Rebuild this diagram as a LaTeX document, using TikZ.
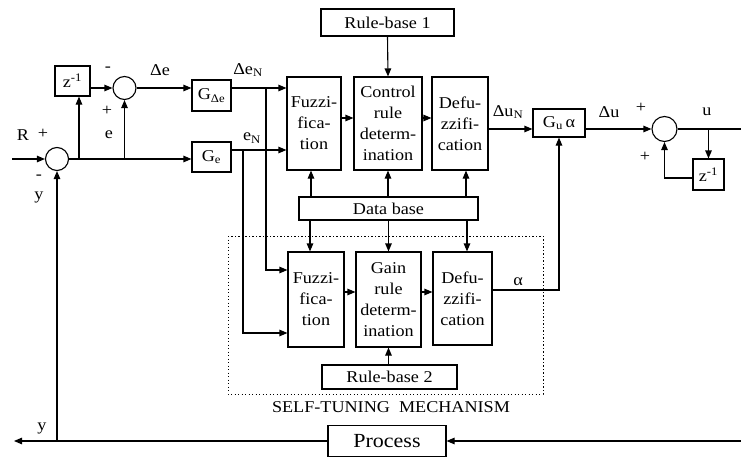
\documentclass[tikz,border=0pt]{standalone}
\usepackage{fontspec}
\setmainfont{Liberation Serif}[FakeStretch=1.1]
\usetikzlibrary{arrows.meta}
\begin{document}
\begin{tikzpicture}[x=1pt,y=-1pt,
  line width=1.1pt,
  >={Triangle[length=8pt,width=6.5pt]},
  every node/.style={font=\fontsize{16.5}{21}\selectfont},
  blk/.style={draw, inner sep=0pt, align=center},
  sumj/.style={draw, circle, inner sep=0pt, minimum size=23pt},
  lbl/.style={inner sep=0pt}]
\path[use as bounding box] (0,0) rectangle (741,460);

% summing junctions
\node[sumj] (s1) at (57,159) {};
\node[sumj] (s2) at (124.5,88) {};
\node[sumj, minimum size=25pt] (s3) at (664.5,129) {};

% blocks
\node[blk, minimum width=35pt, minimum height=30pt] (z1) at (72.5,81) {z\textsuperscript{-1}};
\node[blk, minimum width=39pt, minimum height=31pt] (gde) at (211.5,95.5) {G\textsubscript{Δe}};
\node[blk, minimum width=39pt, minimum height=30pt] (ge) at (211.5,157) {G\textsubscript{e}};
\node[blk, minimum width=54pt, minimum height=93pt] (f1) at (314,123.5) {Fuzzi-\\fica-\\tion};
\node[blk, minimum width=68pt, minimum height=93pt] (c1) at (388,123.5) {Control\\rule\\determ-\\ination};
\node[blk, minimum width=56pt, minimum height=93pt] (d1) at (460,123.5) {Defu-\\zzifi-\\cation};
\node[blk, minimum width=133pt, minimum height=27pt] (rb1) at (387.5,22.5) {Rule-base 1};
\node[blk, minimum width=179pt, minimum height=23pt] (db) at (388.5,208.5) {Data base};
\node[blk, minimum width=56pt, minimum height=95pt] (f2) at (316,299.5) {Fuzzi-\\fica-\\tion};
\node[blk, minimum width=65pt, minimum height=95pt] (g2) at (388.5,299.5) {Gain\\rule\\determ-\\ination};
\node[blk, minimum width=59pt, minimum height=93pt] (d2) at (462.5,298.5) {Defu-\\zzifi-\\cation};
\node[blk, minimum width=135pt, minimum height=24pt] (rb2) at (389.5,377) {Rule-base 2};
\node[blk, minimum width=52pt, minimum height=28pt] (gu) at (559,123) {G\textsubscript{u}\,α};
\node[blk, minimum width=31pt, minimum height=31pt] (z2) at (708.5,174.5) {z\textsuperscript{-1}};
\node[blk, minimum width=118pt, minimum height=31pt, font=\fontsize{20}{22}\selectfont] (proc) at (387,441) {Process};

% self-tuning mechanism frame
\draw[line width=1pt, dash pattern=on 1.1pt off 2.4pt] (228,236) rectangle (543,394);
\node (stm) at (391,407) {SELF-TUNING\ \ MECHANISM};

% junction and terminal points
\coordinate (rin) at (12,159);
\coordinate (b1) at (79,159);
\coordinate (b2) at (124.5,159);
\coordinate (den) at (266,88);
\coordinate (en) at (243,150);
\coordinate (uout) at (741,129);
\coordinate (ub) at (708.5,129);
\coordinate (pin) at (741,441);
\coordinate (yout) at (14,441);
\coordinate (yb) at (57,441);

% error path
\draw[->] (rin) -- (s1.west);
\draw (s1.east) -- (b1) -- (b2);
\draw[->] (b2) -- (ge.west |- b2);
\draw[->] (b1) -- (b1 |- z1.south);
\draw[->] (b2) -- (s2.south);
\draw[->] (z1.east |- s2) -- (s2.west);
\draw[->] (s2.east) -- (gde.west |- s2);

% normalised inputs
\draw[->] (gde.east |- s2) -- (f1.west |- s2);
\draw[->] (ge.east |- en) -- (f1.west |- en);
\draw[->] (den) |- ([yshift=29.5pt]f2.west);
\draw[->] (en) |- ([yshift=-33.5pt]f2.west);

% fuzzy controller
\draw[->] ([yshift=5.5pt]f1.east) -- ([yshift=5.5pt]c1.west);
\draw[->] ([yshift=5.5pt]c1.east) -- ([yshift=5.5pt]d1.west);
\draw[->] (rb1.south) -- (c1.north);
\draw[->] ([xshift=-77.5pt]db.north) -- ([xshift=-3pt]f1.south);
\draw[->] (db.north -| c1.south) -- (c1.south);
\draw[->] ([xshift=77.5pt]db.north) -- ([xshift=6pt]d1.south);

% self-tuning part
\draw[->] ([xshift=-78.5pt]db.south) -- ([xshift=-6pt]f2.north);
\draw[->] (db.south -| g2.north) -- (g2.north);
\draw[->] ([xshift=78.5pt]db.south) -- ([xshift=4.5pt]d2.north);
\draw[->] ([yshift=7.5pt]f2.east) -- ([yshift=7.5pt]g2.west);
\draw[->] ([yshift=7.5pt]g2.east) -- ([yshift=6.5pt]d2.west);
\draw[->] (rb2.north -| g2.south) -- (g2.south);
\draw[->] ([yshift=8.5pt]d2.east) -| (gu.south);

% output path
\draw[->] (d1.east |- s3) -- (gu.west |- s3);
\draw[->] (gu.east |- s3) -- (s3.west);
\draw (s3.east) -- (uout);
\draw[->] (ub) -- (z2.north);
\draw[->] ([yshift=-3.5pt]z2.west) -| (s3.south);

% process and feedback
\draw[->] (pin) -- (proc.east);
\draw[->] (proc.west) -- (yout);
\draw[->] (yb) -- (s1.south);

% signal labels
\node[lbl] (lR) at (23,135) {R};
\node[lbl] (lRp) at (43,134) {+};
\node[lbl] (lm1) at (39,177) {-};
\node[lbl] (ly1) at (39,197) {y};
\node[lbl] (lm2) at (108,69) {-};
\node[lbl] (lp2) at (107,111) {+};
\node[lbl] (le) at (109,135) {e};
\node[lbl] (lde) at (160,70) {Δe};
\node[lbl] (lden) at (248,70) {Δe\textsubscript{N}};
\node[lbl] (len) at (252,138) {e\textsubscript{N}};
\node[lbl] (ldun) at (508,112) {Δu\textsubscript{N}};
\node[lbl] (ldu) at (609,112) {Δu};
\node[lbl] (lp3) at (641,108) {+};
\node[lbl] (lp4) at (645,157) {+};
\node[lbl] (lu) at (707,112) {u};
\node[lbl] (la) at (518,282) {α};
\node[lbl] (ly2) at (42,428) {y};
\end{tikzpicture}
\end{document}
